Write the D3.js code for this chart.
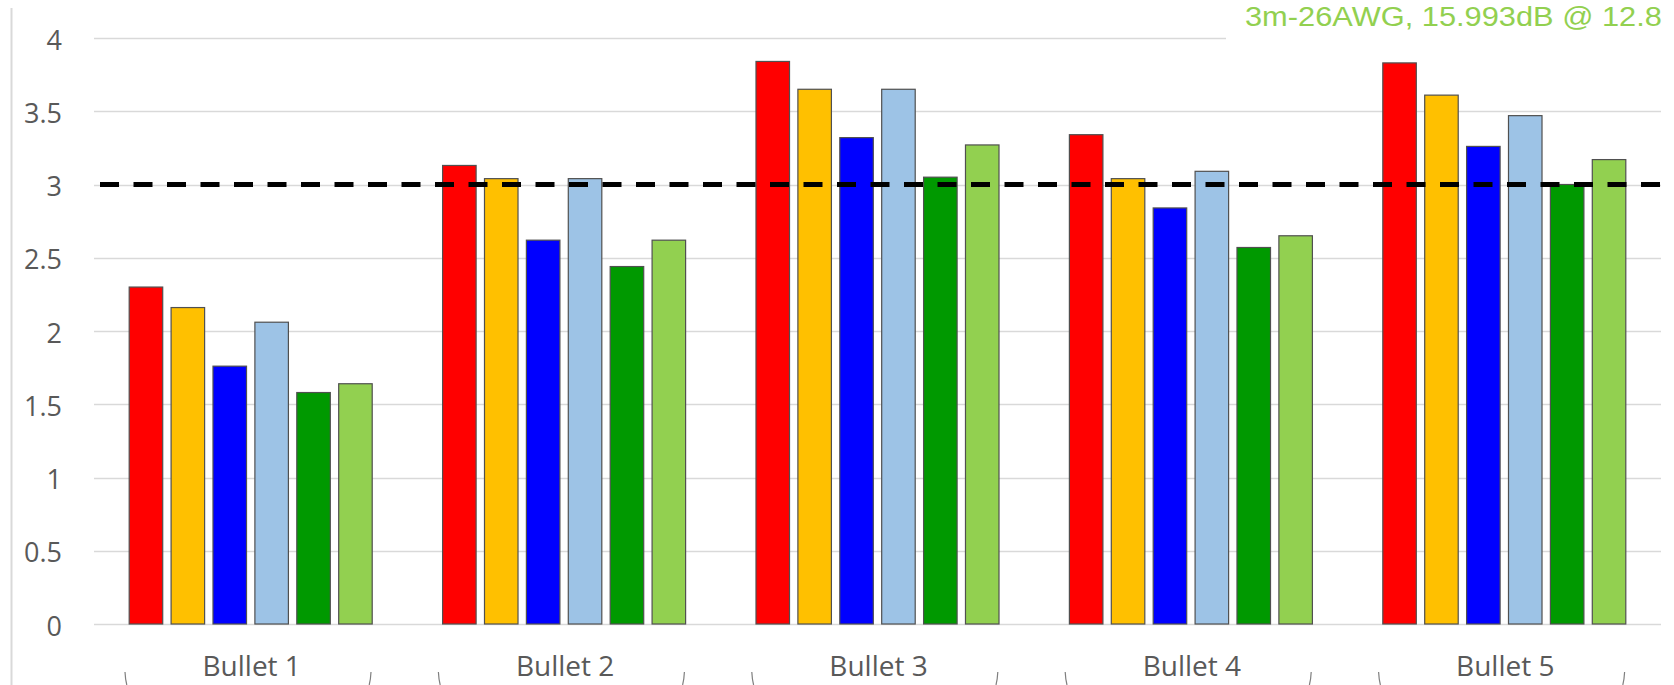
<!DOCTYPE html>
<html>
<head>
<meta charset="utf-8">
<script src="https://cdn.jsdelivr.net/npm/d3@7"></script>
<style>
  html, body { margin: 0; padding: 0; background: #fff; }
  svg { display: block; }
</style>
</head>
<body>
<svg id="chart" width="1674" height="685"></svg>
<script>
// Category labels along the bottom axis
const categories = ["Bullet 1", "Bullet 2", "Bullet 3", "Bullet 4", "Bullet 5"];

// Series keys and their fills (drawn left to right within each group)
const seriesKeys = ["s1", "s2", "s3", "s4", "s5", "s6"];
const seriesColors = ["#FF0000", "#FFC000", "#0000FF", "#9DC3E6", "#009900", "#92D050"];

// Values per series, one entry per category
const s1 = [2.30, 3.13, 3.84, 3.34, 3.83];
const s2 = [2.16, 3.04, 3.65, 3.04, 3.61];
const s3 = [1.76, 2.62, 3.32, 2.84, 3.26];
const s4 = [2.06, 3.04, 3.65, 3.09, 3.47];
const s5 = [1.58, 2.44, 3.05, 2.57, 3.00];
const s6 = [1.64, 2.62, 3.27, 2.65, 3.17];
const seriesValues = [s1, s2, s3, s4, s5, s6];

// Y axis ticks and the reference threshold
const yTicks = [0, 0.5, 1, 1.5, 2, 2.5, 3, 3.5, 4];
const threshold = 3;

// Annotation text in the top-right corner
const annotation = "3m-26AWG, 15.993dB @ 12.8";

const svg = d3.select("#chart");
const W = 1674, H = 685;

const plotLeft = 94, plotRight = 1661, plotTop = 38, plotBottom = 624;

const x0 = d3.scaleBand().domain(categories).range([plotLeft, plotRight]).paddingInner(0).paddingOuter(0);
const x1 = d3.scaleBand().domain(seriesKeys).range([0, x0.bandwidth()]).paddingInner(0.2).paddingOuter(0.84);
const y = d3.scaleLinear().domain([0, 4]).range([plotBottom, plotTop]);

const labelFont = "'Open Sans', 'Noto Sans', sans-serif";
const textColor = "#595959";

// Left-side vertical frame line
svg.append("line")
  .attr("x1", 11.5).attr("x2", 11.5)
  .attr("y1", 8).attr("y2", H)
  .attr("stroke", "#d9d9d9").attr("stroke-width", 2);

// Horizontal gridlines
svg.append("g").selectAll("line")
  .data(yTicks)
  .join("line")
  .attr("x1", plotLeft).attr("x2", plotRight)
  .attr("y1", d => Math.round(y(d)) + 0.5).attr("y2", d => Math.round(y(d)) + 0.5)
  .attr("stroke", "#d9d9d9").attr("stroke-width", 1.4);

// Y tick labels
svg.append("g").selectAll("text")
  .data(yTicks)
  .join("text")
  .attr("x", 62)
  .attr("y", d => y(d) + 1)
  .attr("text-anchor", "end")
  .attr("dominant-baseline", "central")
  .attr("font-family", labelFont)
  .attr("font-size", 27)
  .attr("fill", textColor)
  .text(d => d3.format("~g")(d));

// Annotation box (its white background hides the top gridline behind it)
svg.append("rect")
  .attr("x", 1226).attr("y", 0)
  .attr("width", W - 1226).attr("height", 46)
  .attr("fill", "#fff");
svg.append("text")
  .attr("transform", "translate(1245,26) scale(1.1,1)")
  .attr("font-family", "'Liberation Sans', Arial, sans-serif")
  .attr("font-size", 28)
  .attr("fill", "#92D050")
  .text(annotation);

// Grouped bars
const groups = svg.append("g").selectAll("g")
  .data(categories)
  .join("g")
  .attr("transform", c => `translate(${x0(c)},0)`);

groups.selectAll("rect")
  .data((c, ci) => seriesKeys.map((k, si) => ({ key: k, value: seriesValues[si][ci], color: seriesColors[si] })))
  .join("rect")
  .attr("x", d => x1(d.key))
  .attr("y", d => y(d.value))
  .attr("width", x1.bandwidth())
  .attr("height", d => y(0) - y(d.value))
  .attr("fill", d => d.color)
  .attr("stroke", "#505050")
  .attr("stroke-width", 1.2);

// Dashed threshold line
svg.append("line")
  .attr("x1", 100).attr("x2", W)
  .attr("y1", y(threshold)).attr("y2", y(threshold))
  .attr("stroke", "#000").attr("stroke-width", 5)
  .attr("stroke-dasharray", "19 14.5");

// Category labels
svg.append("g").selectAll("text")
  .data(categories)
  .join("text")
  .attr("x", c => x0(c) + x0.bandwidth() / 2 + 1)
  .attr("y", 676)
  .attr("text-anchor", "middle")
  .attr("font-family", labelFont)
  .attr("font-size", 28)
  .attr("fill", textColor)
  .text(c => c);

// Small bracket-style tick marks at each group's edges
const tickG = svg.append("g")
  .attr("fill", "none").attr("stroke", "#7f7f7f").attr("stroke-width", 1.2);
categories.forEach(c => {
  const l = x0(c) + 31, r = x0(c) + 277;
  tickG.append("path").attr("d", `M${l},672 Q${l + 0.3},679 ${l + 1.8},685`);
  tickG.append("path").attr("d", `M${r},672 Q${r - 0.3},679 ${r - 1.8},685`);
});
</script>
</body>
</html>
